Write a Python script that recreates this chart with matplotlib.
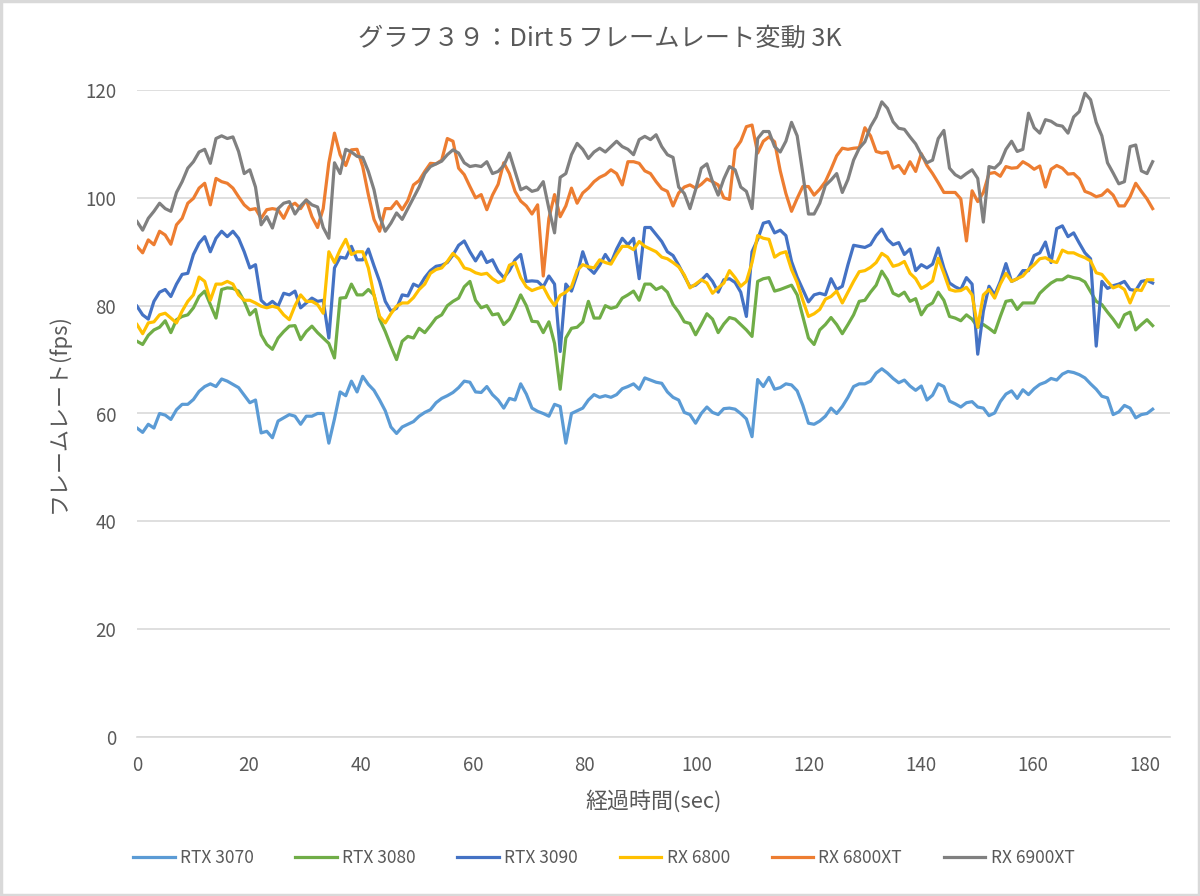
import numpy as np
import matplotlib
matplotlib.use("Agg")
import matplotlib.pyplot as plt
from matplotlib.patches import Rectangle

plt.rcParams['font.family'] = ['Noto Sans CJK JP', 'DejaVu Sans']

# DATA (fps, one sample per logged second)
#---------------------------------------------------------------------------------------------------------
# sample times (s); the log runs slightly past 181 s
times = np.linspace(0, 181.4, 181)

rtx3070 = [
    57.3, 56.5, 58, 57.3, 60, 59.7, 58.9, 60.7, 61.7, 61.7, 62.6, 64.1, 65, 65.5, 65, 66.4,
    66, 65.4, 64.8, 63.4, 62, 62.5, 56.4, 56.7, 55.5, 58.6, 59.2, 59.8, 59.5, 58, 59.5,
    59.5, 60, 60, 54.5, 59, 64, 63.3, 66, 64, 66.9, 65.4, 64.3, 62.5, 60.5, 57.5,
    56.3, 57.5, 58, 58.5, 59.5, 60.2, 60.7, 62, 62.8, 63.3, 63.9, 64.8, 66, 65.8, 64,
    63.9, 65, 63.5, 62.5, 61, 62.8, 62.5, 65.5, 63.6, 61, 60.4, 60, 59.5, 61.7, 61.3,
    54.5, 60, 60.5, 61, 62.5, 63.5, 63, 63.3, 63, 63.5, 64.6, 65, 65.5, 64.5, 66.6,
    66.2, 65.8, 65.6, 64, 63, 62.5, 60.2, 59.8, 58.2, 60, 61.2, 60.2, 59.8, 60.9, 61,
    60.8, 60, 59, 55.7, 66.3, 65, 66.7, 64.5, 64.8, 65.5, 65.3, 64.2, 61.5, 58.2, 58,
    58.6, 59.5, 61, 60, 61.3, 63, 65, 65.5, 65.5, 66, 67.5, 68.3, 67.5, 66.5, 65.7,
    66.2, 65.1, 64.3, 65.1, 62.5, 63.4, 65.5, 65, 62.3, 61.8, 61.2, 62, 62.2, 61.2,
    61, 59.6, 60.1, 62.2, 63.6, 64.2, 62.8, 64.4, 63.5, 64.6, 65.4, 65.8, 66.5, 66.2, 67.3,
    67.8, 67.6, 67.2, 66.6, 65.5, 64.5, 63.2, 62.9, 59.8, 60.3, 61.5, 61, 59.2, 59.8, 60, 60.8]

rtx3080 = [
    73.4, 72.8, 74.5, 75.5, 76, 77.2, 75, 77.4, 78, 78.3, 79.6, 81.7, 82.7, 80.2, 77.7, 83,
    83.3, 83.2, 82.7, 80.8, 78.3, 79.3, 74.6, 72.8, 71.9, 74, 75.2, 76.2, 76.3, 73.7, 75.2,
    76.2, 75, 74, 73, 70.3, 81.4, 81.5, 84, 82, 82, 83, 82, 77.5, 75.2, 72.5,
    70, 73.4, 74.3, 74, 75.8, 75, 76.3, 77.7, 78.3, 80, 80.8, 81.4, 83.5, 84.5, 81,
    79.6, 80, 78.3, 78.5, 76.5, 77.5, 79.6, 82, 80, 77.1, 77, 75, 77, 73, 64.5,
    74, 75.8, 76, 77, 80.8, 77.7, 77.7, 80, 79.5, 79.8, 81.4, 82, 82.7, 81, 84,
    84, 83, 83.5, 82.5, 80.2, 78.8, 77, 76.7, 74.6, 76.5, 78.5, 77.5, 75, 76.6, 77.8,
    77.5, 76.5, 75.5, 74.3, 84.5, 85, 85.2, 82.7, 83, 83.4, 83.8, 82, 78, 74, 72.8,
    75.5, 76.5, 77.8, 76.5, 74.8, 76.5, 78.3, 80.8, 81, 82.5, 83.8, 86.4, 84.8, 82.3, 81.8,
    82.5, 80.8, 81.3, 78.3, 79.9, 80.5, 82.5, 81, 78, 77.7, 77.2, 78.3, 77.5, 76,
    76.5, 75.8, 75, 78, 80.8, 81, 79.3, 80.5, 80.5, 80.5, 82.3, 83.3, 84.2, 84.8, 84.8,
    85.5, 85.2, 85, 84.4, 82.6, 80.8, 80.2, 78.8, 77.5, 76, 78.3, 78.8, 75.5, 76.5, 77.4, 76.3]

rtx3090 = [
    79.9, 78.3, 77.5, 80.8, 82.5, 83, 81.7, 84, 85.8, 86, 89.5, 91.6, 92.8, 90, 92.5, 93.8,
    92.8, 93.8, 92.5, 90, 87, 87.6, 81, 80, 80.8, 79.9, 82.3, 82, 82.7, 79.6, 80.5,
    81.4, 80.8, 81, 74, 87, 89, 88.8, 91, 88.5, 88.5, 90.5, 87.4, 84.5, 80.8, 79,
    79.5, 82, 81.8, 84, 83.5, 85.2, 86.5, 87.3, 87.5, 88, 89.4, 91.2, 92, 90, 88.3,
    90, 88, 88.5, 86.4, 85.2, 86.5, 88.5, 89.5, 84.5, 84.6, 84.5, 83.5, 85.5, 84, 71.5,
    84, 82.7, 85.8, 90, 87, 86, 87.5, 89.5, 87.9, 90.5, 92.5, 91.3, 92.5, 85, 94.5,
    94.5, 93.2, 91.9, 90, 89.3, 87.5, 85.5, 83.5, 83.8, 84.7, 85.8, 84.5, 82.5, 84.8, 85,
    84.3, 82.5, 78, 90, 92.3, 95.3, 95.6, 93.5, 94, 93, 88.2, 85.3, 83, 80.7, 82,
    82.3, 82, 85, 83, 83.6, 87.6, 91.2, 91, 90.8, 91.3, 93, 94.2, 92.3, 91.3, 91.7,
    89.5, 90.5, 86.5, 87.6, 87, 87.7, 90.7, 87, 84.2, 83.5, 83, 85.2, 84, 71,
    79, 83.6, 82, 84.5, 87.8, 84.5, 85, 86.5, 86.5, 89.3, 89.8, 91.8, 88, 94.3, 94.8,
    92.8, 93.5, 91.6, 89.8, 88.7, 72.5, 84.5, 83.2, 83.7, 84, 84.5, 83, 82.8, 84.5, 84.7, 84.2]

rx6800 = [
    76.5, 74.8, 76.8, 77, 78.3, 78.6, 77.7, 76.8, 79, 80.8, 82, 85.3, 84.5, 81, 84, 84,
    84.5, 84, 82, 81, 81, 80.5, 79.9, 79.6, 79.9, 79.6, 78.3, 77.4, 80, 82, 80.8,
    80.8, 80.2, 78.6, 90, 88, 90.4, 92.3, 89.5, 90, 90, 87, 82, 78, 76.8, 78.5,
    79.9, 80.5, 80.5, 81.5, 83, 84, 86, 86.7, 87, 88.2, 89.7, 88.7, 87, 86.7, 86.1,
    85.8, 86, 85, 84.3, 84.7, 87.5, 88, 85.2, 83.5, 82.8, 83.2, 83.5, 81.5, 80, 81.9,
    82.5, 83.5, 86.5, 87.6, 87.2, 87, 88.5, 88, 87.7, 89.5, 91, 91, 90.4, 91.9, 91,
    90.5, 90, 89, 88.7, 88, 87.2, 85.7, 83.3, 84, 84.8, 84.2, 82.3, 83.3, 84.2, 86.5,
    85.2, 83.6, 84.5, 88, 93, 92.5, 92.3, 89, 89.7, 90, 86.7, 84.3, 81, 78, 78.5,
    79.3, 81.2, 81.7, 82.7, 80.5, 82.5, 84.5, 86.3, 86.5, 87.1, 88, 89.7, 89, 87.3, 87.6,
    88.2, 86, 85, 83.2, 83.8, 84.6, 88.8, 86, 83, 82.7, 82.8, 83.4, 82, 76,
    82, 83, 81.4, 84, 86, 84.5, 85, 85.5, 86.7, 87.6, 88.7, 88.9, 88.3, 88, 90.3,
    89.8, 89.8, 89.3, 88.9, 88.3, 86.1, 85.8, 84.5, 83.3, 83.7, 83, 80.5, 83, 82.8, 84.8, 84.8]

rx6800xt = [
    91, 89.8, 92.2, 91.3, 93.8, 93.1, 91.4, 95, 96.2, 99, 99.9, 101.8, 102.7, 98.7, 103.6, 103,
    102.7, 101.8, 100.2, 98.7, 97.8, 98, 96.2, 97.8, 98, 97.8, 96.2, 98.4, 99, 98, 99.6,
    96.5, 94.5, 98, 106.5, 112, 108, 106, 108.9, 109, 105.8, 100.6, 96, 93.8, 98, 98,
    99.3, 97.8, 99.5, 102.4, 103.2, 104.9, 106.4, 106.3, 107, 111, 110.5, 105.5, 104.3, 102.1, 100,
    100.6, 97.8, 100.5, 102.5, 106.5, 104.5, 101.2, 99.4, 98.5, 97, 98.7, 85.5, 96.2, 100.6, 96.5,
    98.5, 101.8, 99, 100.9, 101.8, 103, 103.8, 104.3, 105.2, 104.5, 102.4, 106.7, 106.7, 106.4, 105,
    104.5, 103, 101.7, 101.2, 98.5, 100.9, 102, 102.4, 101.8, 102.5, 103.5, 103, 102.4, 100, 99.7,
    109, 110.5, 113.2, 113.5, 108.3, 110.5, 111.3, 110.4, 105, 100.8, 97.5, 99.9, 102.1, 102.1, 100.5,
    101.6, 103, 105.3, 107.8, 109.2, 109, 109.2, 109.3, 113, 111.5, 108.6, 108.3, 108.5, 105.5, 106,
    104.5, 106.7, 104.9, 108.2, 106, 104.5, 102.8, 101, 101, 101, 99.8, 92, 101.3, 99.3,
    101, 104.5, 104.7, 104, 105.8, 105.5, 105.6, 106.7, 106.1, 105.3, 105.9, 102, 105.3, 106, 105.5,
    104.4, 104.5, 103.5, 101.2, 100.8, 100.2, 100.5, 101.5, 100.5, 98.5, 98.5, 100.2, 102.7, 101.2, 99.8, 98]

rx6900xt = [
    95.6, 94, 96.2, 97.5, 99, 98, 97.5, 101, 103, 105.5, 106.7, 108.5, 109, 106.4, 111, 111.5,
    111, 111.3, 108.6, 104.5, 105.2, 102, 95, 96.5, 94.4, 98, 99, 99.3, 97, 98.5, 99.6,
    98.7, 98.3, 94.5, 92.5, 106.5, 104.5, 109, 108.5, 107.7, 107.5, 104.9, 101.5, 96.5, 93.8, 95.3,
    97.2, 96, 98, 100, 102, 104.5, 105.8, 106.3, 106.8, 108, 108.9, 108.3, 106.5, 105.8, 106,
    105.8, 106.7, 104.5, 104.9, 106, 108.3, 104.9, 101.5, 102, 101.2, 101.5, 103, 98, 93.5, 103.8,
    104.5, 108, 110.1, 109, 107.3, 108.5, 109.2, 108.5, 109.5, 110.5, 109.5, 109, 108, 110.8, 111.4,
    110.8, 111.7, 109.5, 108, 107.5, 102, 100.8, 98, 101.5, 105.5, 106.3, 103, 100.5, 103.5, 105.8,
    105.2, 102, 101.2, 98, 111, 112.3, 112.3, 109.5, 108.5, 110.5, 114, 111.5, 104.5, 97, 97,
    99, 102.3, 103.3, 104.5, 101, 103.4, 107, 109.2, 110.4, 113.2, 115, 117.8, 116.6, 114.1, 112.9,
    112.7, 111.3, 110, 108, 106.5, 107, 111, 112.5, 105.5, 104.3, 103.7, 104.5, 105.2, 103.6,
    95.5, 105.8, 105.5, 106.5, 109, 110.5, 108.6, 109, 115.7, 113, 112, 114.5, 114.2, 113.5, 113.3,
    112, 115, 116, 119.4, 118.2, 114, 111.5, 106.5, 104.6, 102.6, 103, 109.5, 109.8, 105, 104.5, 106.7]

series_names = ["RTX 3070", "RTX 3080", "RTX 3090", "RX 6800", "RX 6800XT", "RX 6900XT"]
series_colors = ["#5B9BD5", "#70AD47", "#4472C4", "#FFC000", "#ED7D31", "#808080"]

x_ticks = [0, 20, 40, 60, 80, 100, 120, 140, 160, 180]
y_ticks = [0, 20, 40, 60, 80, 100, 120]

title = "グラフ３９：Dirt 5 フレームレート変動 3K"
x_label = "経過時間(sec)"
y_label = "フレームレート(fps)"

# PLOT:
#---------------------------------------------------------------------------------------------------------
text_color = "#595959"
grid_color = "#D9D9D9"

fig = plt.figure(figsize=(12, 8.96), dpi=100)
ax = fig.add_axes([137 / 1200, 1 - 737 / 896, (1170 - 137) / 1200, (737 - 90) / 896])

all_series = [rtx3070, rtx3080, rtx3090, rx6800, rx6800xt, rx6900xt]
for vals, name, col in zip(all_series, series_names, series_colors):
    ax.plot(times, vals, color=col, lw=2.3, label=name, solid_joinstyle="round")

ax.set_xlim(0, 184.5)
ax.set_ylim(0, 120)
ax.set_xticks(x_ticks)
ax.set_yticks(y_ticks)
ax.grid(axis="y", color=grid_color, lw=1.2)
ax.set_axisbelow(True)
for side in ["top", "right", "left"]:
    ax.spines[side].set_visible(False)
ax.spines["bottom"].set_color(grid_color)
ax.spines["bottom"].set_linewidth(1.2)
ax.tick_params(axis="both", length=0, labelsize=13.5, labelcolor=text_color)
ax.tick_params(axis="x", pad=13)
ax.tick_params(axis="y", pad=15)

ax.set_xlabel(x_label, fontsize=15.8, color=text_color, labelpad=10)
ax.set_ylabel(y_label, fontsize=15.8, color=text_color, labelpad=11)
fig.text(0.5, 0.957, title, ha="center", va="center", fontsize=18.2, color=text_color)

fig.legend(loc="center", bbox_to_anchor=(0.503, 0.042), ncol=6, frameon=False,
           fontsize=12.5, labelcolor=text_color, handlelength=2.4, handletextpad=0.3,
           columnspacing=2.4)

# chart area border
fig.patches.append(Rectangle((0.001, 0.001), 0.998, 0.998, transform=fig.transFigure,
                             fill=False, edgecolor=grid_color, lw=2.5))

fig.savefig("out.png", dpi=100, facecolor="white")
